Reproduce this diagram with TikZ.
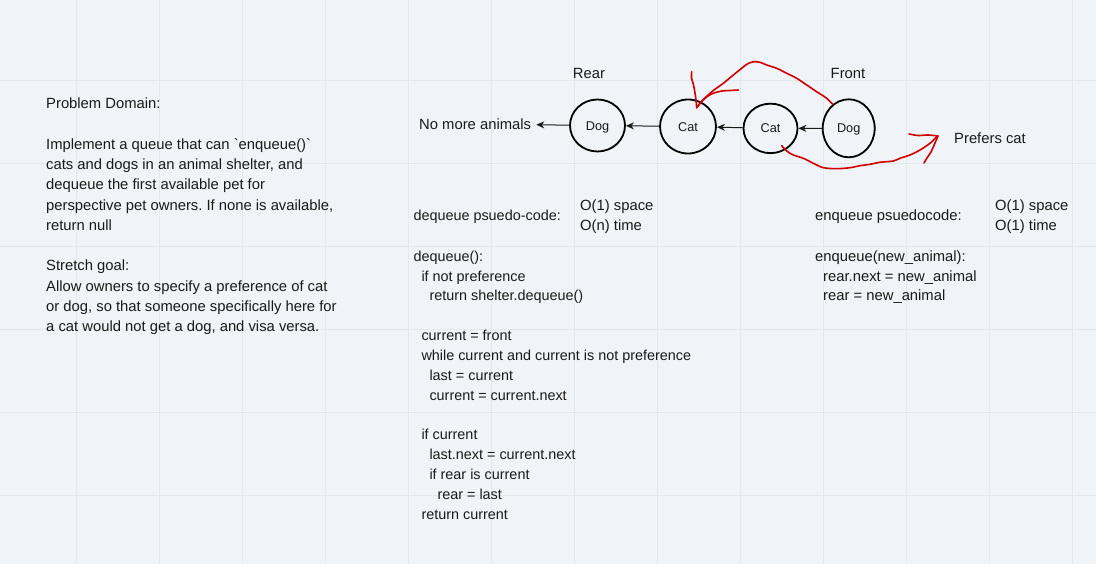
\documentclass[tikz,border=0pt]{standalone}
\usepackage{fontspec}
\setmainfont{Liberation Sans}
\usetikzlibrary{arrows.meta,shapes.geometric}
\definecolor{bg}{HTML}{F0F3F7}
\definecolor{gridc}{HTML}{E3E8ED}
\definecolor{ink}{HTML}{1A1A1A}
\definecolor{scrib}{HTML}{D00000}
\newcommand\myind{\hspace*{8pt}}
\frenchspacing
\begin{document}
\begin{tikzpicture}[x=1pt,y=-1pt,
  txt/.style={font=\fontsize{14.8pt}{20pt}\selectfont, text=ink, inner sep=0pt},
  block/.style={txt, align=left, anchor=north west},
  animal/.style={draw=black, line width=1.8pt, ellipse, inner sep=0pt, text=ink,
    font=\fontsize{12.7pt}{14pt}\selectfont, text height=9.1pt, text depth=0pt},
  link/.style={draw=ink, line width=1pt, -{Stealth[length=8pt,width=7pt,inset=2.5pt]}},
  scribble/.style={draw=scrib, line width=1.6pt, line cap=round, line join=round}
]
% background and grid
\fill[bg] (0,0) rectangle (1096,564);
\useasboundingbox (0,0) rectangle (1096,564);
\foreach \k in {0,...,12} \draw[gridc, line width=1pt] ({76.7+83*\k},0) -- ({76.7+83*\k},564);
\foreach \k in {0,...,5} \draw[gridc, line width=1pt] (0,{80.3+83*\k}) -- (1096,{80.3+83*\k});

% left problem description
\node[block, font=\fontsize{14.8pt}{20.25pt}\selectfont\frenchspacing] (problem) at (46,94.6) {%
\strut Problem Domain:\\
\strut\\
Implement a queue that can \textasciigrave enqueue()\textasciigrave\\
cats and dogs in an animal shelter, and\\
dequeue the first available pet for\\
perspective pet owners. If none is available,\\
return null\\
\strut\\
Stretch goal:\\
Allow owners to specify a preference of cat\\
or dog, so that someone specifically here for\\
a cat would not get a dog, and visa versa.};

% queue diagram
\node[txt, anchor=base] (rear) at (589,79) {Rear};
\node[txt, anchor=base] (front) at (848,79) {Front};
\node[txt, anchor=base west] (nomore) at (419,130) {No more animals};
\node[txt, anchor=base west] (prefers) at (954,143.3) {Prefers cat};

\node[animal, minimum width=55pt, minimum height=52pt] (dog1) at (597.5,125.5) {Dog};
\node[animal, minimum width=56pt, minimum height=54pt] (cat1) at (688,126.5) {Cat};
\node[animal, minimum width=54pt, minimum height=49.5pt] (cat2) at (770.5,128.4) {Cat};
\node[animal, minimum width=52pt, minimum height=58pt] (dog2) at (848.7,128.3) {Dog};

\draw[link] (dog2) -- (cat2);
\draw[link] (cat2) -- (cat1);
\draw[link] (cat1) -- (dog1);
\draw[link, shorten >=5pt] (dog1) -- (nomore.east);

% red hand-drawn arrows
\draw[scribble] plot[smooth, tension=0.5] coordinates {(832.7,104.3) (826.7,98.3) (816.7,91.7) (806.7,85) (796.7,78.3) (786.7,73.3) (776.7,68.3) (766.7,65) (760,62.3) (753.3,61.7) (746.7,64.3) (741.7,68.3) (733.3,75) (723.3,83.3) (714,90) (706,97) (699.5,104) (696.7,107.7)};
\draw[scribble] plot[smooth, tension=0.5] coordinates {(691.7,71.7) (691.5,78) (693.3,84) (695,93) (696,100) (696.7,107.7)};
\draw[scribble] plot[smooth, tension=0.5] coordinates {(696.7,107.7) (702,101) (708,96) (714,93) (722,91) (730,90.5) (738.3,90)};
\draw[scribble] plot[smooth, tension=0.5] coordinates {(781.7,145.7) (786.7,151) (793.3,155) (803.3,158.3) (813.3,163.3) (823.3,167.7) (836.7,168.7) (850,167.7) (860,165.7) (870,164.3) (880,162.3) (893.3,161) (900,158.3) (910,155) (920,150) (930,143.3) (936.7,136.7)};
\draw[scribble] plot[smooth, tension=0.4] coordinates {(909,134) (918,135.5) (928,135) (938,136)};
\draw[scribble] plot[smooth, tension=0.4] coordinates {(938,136) (935,143) (931,152) (927,158) (924,163)};

% dequeue pseudo-code
\node[txt, anchor=base west, font=\fontsize{14.4pt}{20pt}\selectfont] (deqhead) at (413.3,221) {dequeue psuedo-code:};
\node[block] (deqcost) at (580,196) {\strut O(1) space\\O(n) time};
\node[block, font=\fontsize{14.4pt}{19.85pt}\selectfont] (deqcode) at (413.3,247.1) {%
\strut dequeue():\\
\myind if not preference\\
\myind\myind return shelter.dequeue()\\
\strut\\
\myind current = front\\
\myind while current and current is not preference\\
\myind\myind last = current\\
\myind\myind current = current.next\\
\strut\\
\myind if current\\
\myind\myind last.next = current.next\\
\myind\myind if rear is current\\
\myind\myind\myind rear = last\\
\myind return current};

% enqueue pseudo-code
\node[txt, anchor=base west] (enqhead) at (815,221) {enqueue psuedocode:};
\node[block] (enqcost) at (995,196) {\strut O(1) space\\O(1) time};
\node[block, font=\fontsize{14.8pt}{19.85pt}\selectfont] (enqcode) at (815,247.1) {%
\strut enqueue(new\_animal):\\
\myind rear.next = new\_animal\\
\myind rear = new\_animal};
\end{tikzpicture}
\end{document}
